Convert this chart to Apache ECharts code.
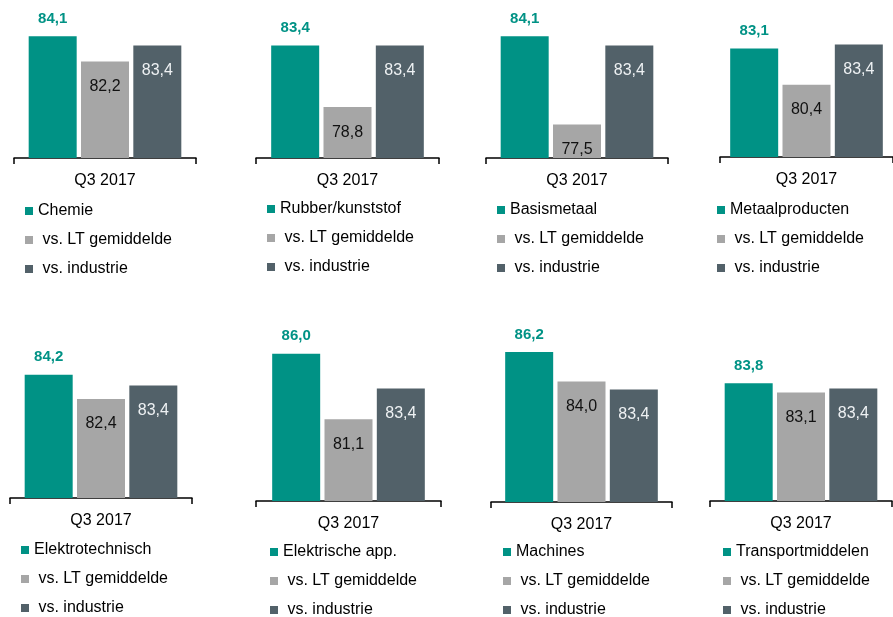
<!DOCTYPE html>
<html>
<head>
<meta charset="utf-8">
<title>Bezettingsgraad per sector Q3 2017</title>
<script src="https://cdn.jsdelivr.net/npm/echarts/dist/echarts.min.js"></script>
<style>
  html, body { margin: 0; padding: 0; background: #fff; }
  #chart { width: 893px; height: 617px; }
</style>
</head>
<body>
<div id="chart"></div>
<script>
// data
const categories = ['Q3 2017'];
const sectors = ['Chemie', 'Rubber/kunststof', 'Basismetaal', 'Metaalproducten',
  'Elektrotechnisch', 'Elektrische app.', 'Machines', 'Transportmiddelen'];
const sectorValues = [84.1, 83.4, 84.1, 83.1, 84.2, 86.0, 86.2, 83.8];
const ltAverage = [82.2, 78.8, 77.5, 80.4, 82.4, 81.1, 84.0, 83.1];
const industry = [83.4, 83.4, 83.4, 83.4, 83.4, 83.4, 83.4, 83.4];
const ltName = 'vs. LT gemiddelde';
const industryName = 'vs. industrie';

// layout of the 8 small panels (axis x start, axis y, legend pos)
const panels = [
  { left: 14, axisY: 158, width: 182, legendLeft: 25, legendTop: 203 },
  { left: 256, axisY: 158, width: 183, legendLeft: 267, legendTop: 201 },
  { left: 486, axisY: 158, width: 182, legendLeft: 497, legendTop: 202 },
  { left: 720, axisY: 157, width: 183, legendLeft: 717, legendTop: 202 },
  { left: 10, axisY: 498, width: 182, legendLeft: 21, legendTop: 542 },
  { left: 256, axisY: 501, width: 185, legendLeft: 270, legendTop: 544 },
  { left: 491, axisY: 502, width: 181, legendLeft: 503, legendTop: 544 },
  { left: 710, axisY: 501, width: 182, legendLeft: 723, legendTop: 544 }
];

const TEAL = '#009285';
const GREY = '#a6a6a6';
const SLATE = '#526169';
const FONT = 'Liberation Sans, Arial, sans-serif';
const yMin = 75, yMax = 86.5;
const plotH = 154;

const fmt = v => v.toFixed(1).replace('.', ',');

const grid = [], xAxis = [], yAxis = [], legend = [], series = [];

panels.forEach((p, i) => {
  grid.push({ left: p.left, top: p.axisY - plotH, width: p.width, height: plotH });
  xAxis.push({
    type: 'category',
    gridIndex: i,
    data: categories,
    axisLine: { lineStyle: { color: '#000', width: 1.5 } },
    axisTick: { show: true, length: 6, lineStyle: { color: '#000', width: 1.5 } },
    axisLabel: { color: '#000', fontSize: 16, fontFamily: FONT, margin: 15 }
  });
  yAxis.push({ type: 'value', gridIndex: i, min: yMin, max: yMax, show: false });

  legend.push({
    orient: 'vertical',
    left: p.legendLeft,
    top: p.legendTop,
    height: 120,
    padding: 0,
    itemWidth: 8,
    itemHeight: 8,
    itemGap: 13,
    icon: 'rect',
    selectedMode: false,
    data: [sectors[i], ltName, industryName],
    formatter: name => name === sectors[i] ? name : ' ' + name,
    textStyle: { color: '#000', fontSize: 16, fontFamily: FONT }
  });

  const common = {
    type: 'bar',
    xAxisIndex: i,
    yAxisIndex: i,
    barWidth: 48,
    barGap: '9%',
    animation: false
  };
  series.push(Object.assign({}, common, {
    name: sectors[i],
    data: [sectorValues[i]],
    itemStyle: { color: TEAL },
    label: {
      show: true, position: 'top', distance: 10,
      formatter: d => fmt(d.value),
      color: TEAL, fontWeight: 'bold', fontSize: 15, fontFamily: FONT
    }
  }));
  series.push(Object.assign({}, common, {
    name: ltName,
    data: [ltAverage[i]],
    itemStyle: { color: GREY },
    label: {
      show: true, position: 'insideTop', distance: 17,
      formatter: d => fmt(d.value),
      color: '#111', fontSize: 16, fontFamily: FONT
    }
  }));
  series.push(Object.assign({}, common, {
    name: industryName,
    data: [industry[i]],
    itemStyle: { color: SLATE },
    label: {
      show: true, position: 'insideTop', distance: 17,
      formatter: d => fmt(d.value),
      color: '#eef1f3', fontSize: 16, fontFamily: FONT
    }
  }));
});

const myChart = echarts.init(document.getElementById('chart'));
myChart.setOption({
  animation: false,
  backgroundColor: '#fff',
  grid, xAxis, yAxis, legend, series
});

window.addEventListener('resize', () => myChart.resize());
</script>
</body>
</html>
